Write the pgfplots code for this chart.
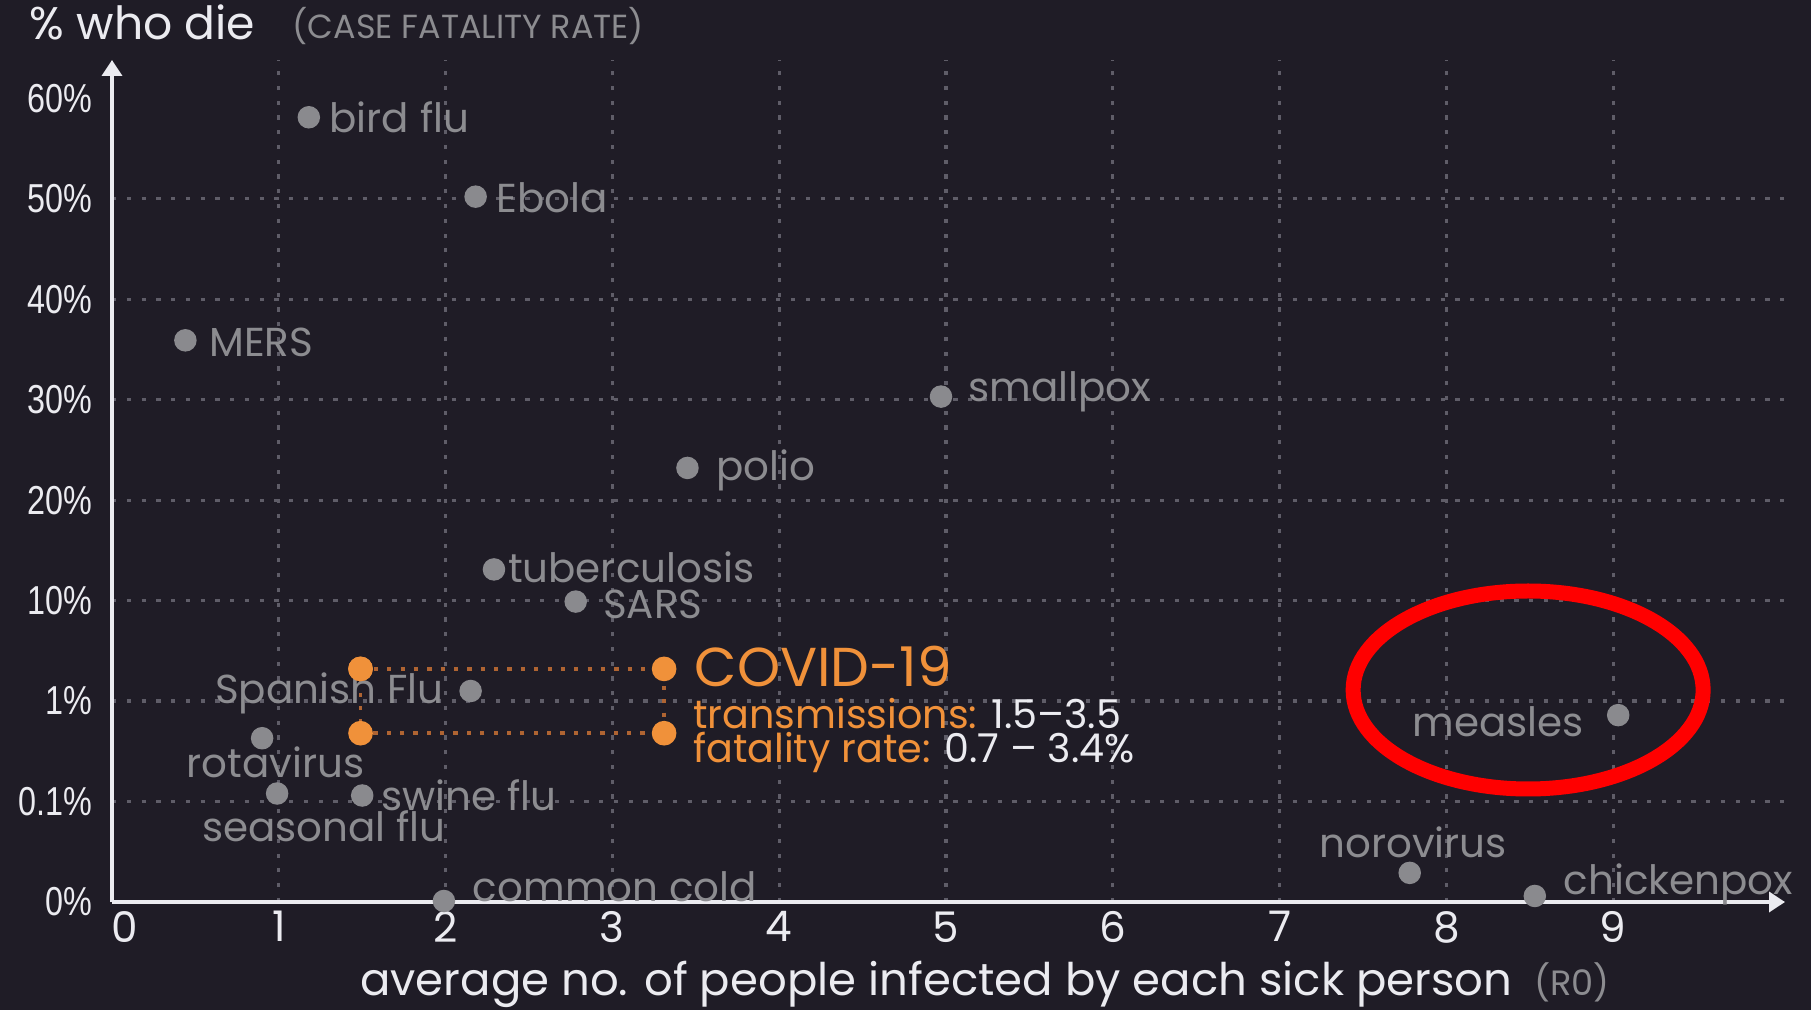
\documentclass[border=0pt]{standalone}
\usepackage{pgfplots}
\pgfplotsset{compat=1.18}
\usepackage{fontspec}
\setmainfont{Poppins}
\newfontfamily\tickfont[FakeStretch=0.8]{Liberation Sans}
\usetikzlibrary{arrows.meta}
\definecolor{bg}{RGB}{31,28,38}
\definecolor{gridc}{RGB}{95,93,104}
\definecolor{lab}{RGB}{140,140,144}
\definecolor{pt}{RGB}{138,138,142}
\definecolor{orng}{RGB}{240,145,58}
\definecolor{orngd}{RGB}{175,100,50}
\definecolor{axc}{RGB}{235,235,240}
\tikzset{lbl/.style={text=lab, font=\fontsize{11.5}{13}\selectfont, inner sep=0pt}}
\begin{document}
\begin{tikzpicture}
\fill[bg] (0,0) rectangle (18.11,10.10);
\useasboundingbox (0,0) rectangle (18.11,10.10);
\begin{axis}[
  at={(1.12cm,1.08cm)}, anchor=south west,
  scale only axis, width=16.73cm, height=8.42cm,
  xmin=0, xmax=10.03, ymin=0, ymax=8.38,
  clip=false,
  axis x line=bottom, axis y line=left,
  axis line style={axc, line width=1pt, -{Triangle[width=0.2cm,length=0.16cm]}},
  major tick length=0pt,
  xtick={1,...,9}, extra x ticks={0}, extra x tick style={grid=none, xticklabel style={xshift=3.6pt}},
  ytick={1,...,7}, yticklabels={0.1\%,1\%,10\%,20\%,30\%,40\%,50\%},
  extra y ticks={0,8}, extra y tick labels={0\%,60\%}, extra y tick style={grid=none},
  grid=major,
  major grid style={gridc, line width=0.9pt, dash pattern=on 1.2pt off 3pt},
  /pgf/number format/assume math mode=true,
  xticklabel style={text=axc, font=\fontsize{12}{14}\selectfont, yshift=-1.5pt, inner ysep=1pt},
  yticklabel style={text=axc, font=\tickfont\fontsize{11.5}{13}\selectfont, xshift=-2pt},
]
% grey diseases
\addplot[only marks, mark=*, mark size=3pt, color=pt] table {
x y
1.18 7.81
2.18 7.02
0.44 5.59
4.97 5.03
3.45 4.32
2.29 3.31
2.78 2.99
2.15 2.10
0.90 1.63
0.99 1.08
1.50 1.06
1.99 0.01
7.78 0.29
8.53 0.06
9.03 1.86
};
% COVID-19 range
\addplot[orngd, line width=1pt, dash pattern=on 1.2pt off 2.6pt, mark=*, mark size=3pt,
  mark options={solid, orng, fill=orng}] coordinates {
(1.49,2.32) (3.31,2.32) (3.31,1.68) (1.49,1.68) (1.49,2.32)};

\node[lbl, anchor=west] at (axis cs:1.30,7.81) {bird flu};
\node[lbl, anchor=west] at (axis cs:2.30,7.01) {Ebola};
\node[lbl, anchor=west] at (axis cs:0.58,5.57) {MERS};
\node[lbl, anchor=west] at (axis cs:5.13,5.08) {smallpox};
\node[lbl, anchor=west] at (axis cs:3.62,4.30) {polio};
\node[lbl, anchor=west] at (axis cs:2.37,3.33) {tuberculosis};
\node[lbl, anchor=west] at (axis cs:2.94,2.96) {SARS};
\node[lbl, anchor=east] at (axis cs:1.99,2.08) {Spanish Flu};
\node[lbl] at (axis cs:0.98,1.39) {rotavirus};
\node[lbl] at (axis cs:1.27,0.75) {seasonal flu};
\node[lbl, anchor=west] at (axis cs:1.61,1.06) {swine flu};
\node[lbl, anchor=west] at (axis cs:2.16,0.15) {common cold};
\node[lbl] at (axis cs:7.80,0.59) {norovirus};
\node[lbl, anchor=west] at (axis cs:8.70,0.18) {chickenpox};
\node[lbl] at (axis cs:8.31,1.79) {measles};

\node[anchor=west, inner sep=0pt, text=orng, font=\fontsize{15.6}{18}\selectfont] at (axis cs:3.49,2.34) {COVID-19};
\node[anchor=west, inner sep=0pt, text=orng, font=\fontsize{11.3}{13}\selectfont] at (axis cs:3.48,1.88) {transmissions: \textcolor{axc}{1.5--3.5}};
\node[anchor=west, inner sep=0pt, text=orng, font=\fontsize{11.3}{13}\selectfont] at (axis cs:3.48,1.49) {fatality rate: \textcolor{axc}{0.7 -- 3.4\%}};

\draw[red, line width=0.15cm] (axis cs:8.49,2.11) ellipse [x radius=1.75cm, y radius=0.99cm];
\end{axis}
\node[anchor=base west, inner sep=0pt, text=axc, font=\fontsize{13}{15}\selectfont] at (0.29,9.70) {\% who die};
\node[anchor=base west, inner sep=0pt, text=lab, font=\fontsize{9.5}{11}\selectfont] at (2.92,9.71) {(CASE FATALITY RATE)};
\node[anchor=base, inner sep=0pt, text=axc, font=\fontsize{12.8}{15}\selectfont] at (9.85,0.15) {average no. of people infected by each sick person\hspace{0.22cm}{\color{lab}\fontsize{10}{12}\selectfont (R0)}};
\end{tikzpicture}
\end{document}
